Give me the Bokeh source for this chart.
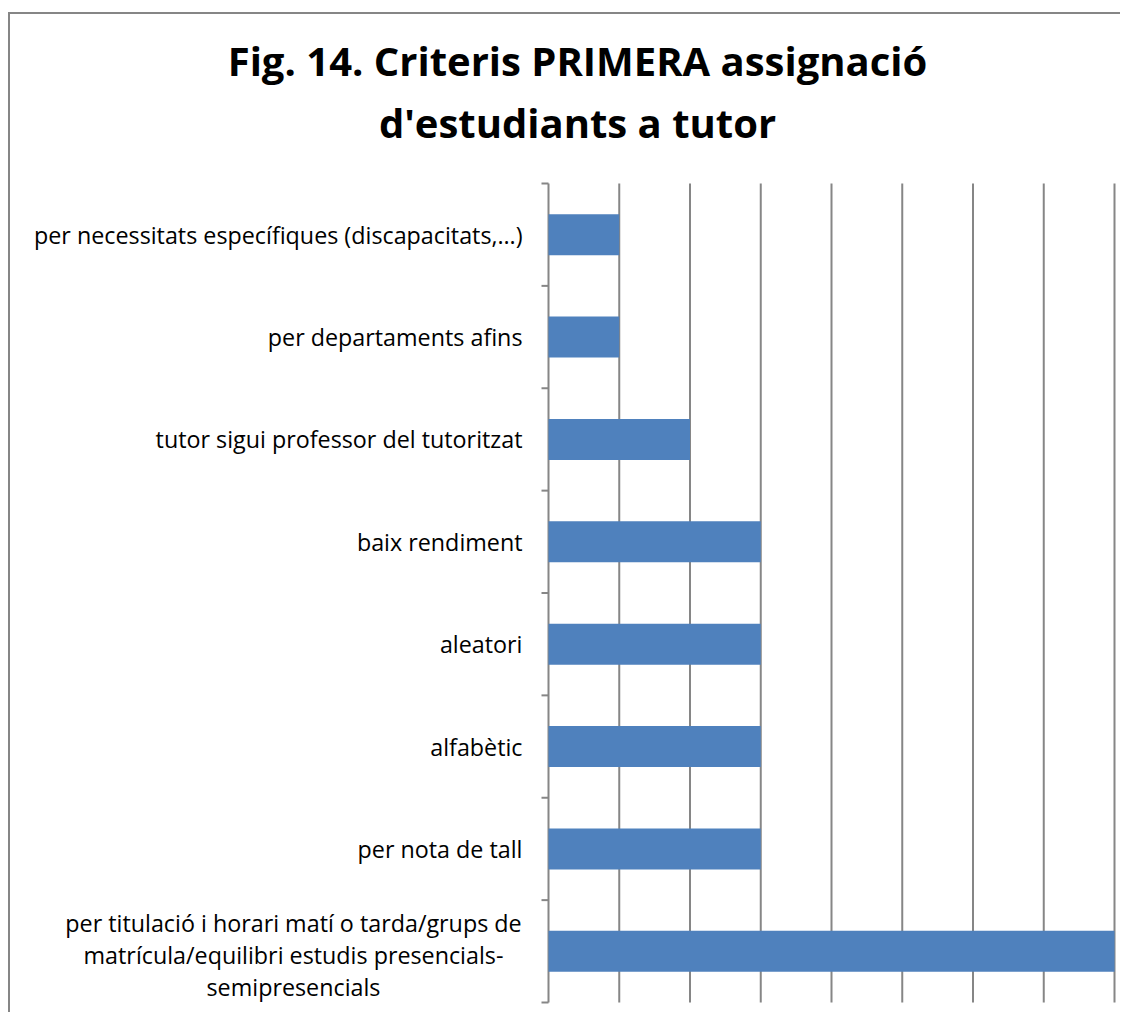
import numpy as np
from bokeh.plotting import figure
from bokeh.models import ColumnDataSource, Range1d
from bokeh.core.properties import value
from bokeh.embed import file_html
from bokeh.resources import INLINE

# ---- data (top to bottom as in the chart) ----
categories = [
    "per necessitats específiques (discapacitats,…)",
    "per departaments afins",
    "tutor sigui professor del tutoritzat",
    "baix rendiment",
    "aleatori",
    "alfabètic",
    "per nota de tall",
    "per titulació i horari matí o tarda/grups de\nmatrícula/equilibri estudis presencials-\nsemipresencials",
]
values = [1, 1, 2, 3, 3, 3, 3, 8]
x_ticks = [0, 1, 2, 3, 4, 5, 6, 7, 8]
title_lines = ["Fig. 14. Criteris PRIMERA assignació", "d'estudiants a tutor"]

# ---- layout (pixels inside the canvas) ----
W, H = 1112, 1000
PLOT_LEFT, PLOT_RIGHT = 538, 1104     # x = 0 and x = 8
PLOT_TOP, PLOT_BOTTOM = 169, 988      # band area
n = len(categories)
ux = (PLOT_RIGHT - PLOT_LEFT) / (x_ticks[-1] - x_ticks[0])
uy = (PLOT_BOTTOM - PLOT_TOP) / n

def dx(px):
    return x_ticks[0] + (px - PLOT_LEFT) / ux

def dy(py):
    return -0.5 + (py - PLOT_TOP) / uy

GRAY = "#868686"
BAR = "#4F81BD"
FONT = "Open Sans"

p = figure(
    width=W, height=H,
    x_range=Range1d(dx(0), dx(W)),
    y_range=Range1d(dy(H), dy(0)),
    x_axis_type=None, y_axis_type=None,
    output_backend="svg", toolbar_location=None,
    min_border=0,
    styles={"border-left": f"2px solid {GRAY}", "border-top": f"2px solid {GRAY}",
            "margin-left": "8px", "margin-top": "12px"},
)
p.outline_line_color = None
p.grid.visible = False
p.background_fill_color = "white"
p.border_fill_color = "white"

pos = list(range(n))
boundaries = [i - 0.5 for i in range(n + 1)]

# vertical gridlines (the one at 0 is the category axis line)
p.segment(x0=x_ticks, y0=[boundaries[0]] * len(x_ticks),
          x1=x_ticks, y1=[boundaries[-1]] * len(x_ticks),
          line_color=GRAY, line_width=2)
# category tick marks at band boundaries, pointing left
p.ray(x=[x_ticks[0]] * len(boundaries), y=boundaries, length=7,
      length_units="screen", angle=np.pi, line_color=GRAY, line_width=2)

# bars
src = ColumnDataSource(dict(y=pos, v=values))
p.hbar(y="y", left=x_ticks[0], right="v", height=0.4, source=src,
       fill_color=BAR, line_color=None)

# category labels
single = [i for i in pos if "\n" not in categories[i]]
multi = [i for i in pos if "\n" in categories[i]]
p.text(x=[x_ticks[0]] * len(single), y=single, text=[categories[i] for i in single],
       x_offset=-26, text_align="right", text_baseline="middle",
       text_font=value(FONT), text_font_size="23.3px", text_color="#000000")
p.text(x=[x_ticks[0]] * len(multi), y=multi, text=[categories[i] for i in multi],
       x_offset=-255, y_offset=4, text_align="center", text_baseline="middle",
       text_font=value(FONT), text_font_size="23.3px", text_line_height=1.0,
       text_color="#000000")

# title (two centred lines)
p.text(x=[dx(567)] * 2, y=[dy(46), dy(108)], text=title_lines,
       text_align="center", text_baseline="alphabetic",
       text_font=value(FONT), text_font_size="40px", text_font_style="bold",
       text_color="#000000")

open("out.html", "w").write(file_html(p, INLINE))
